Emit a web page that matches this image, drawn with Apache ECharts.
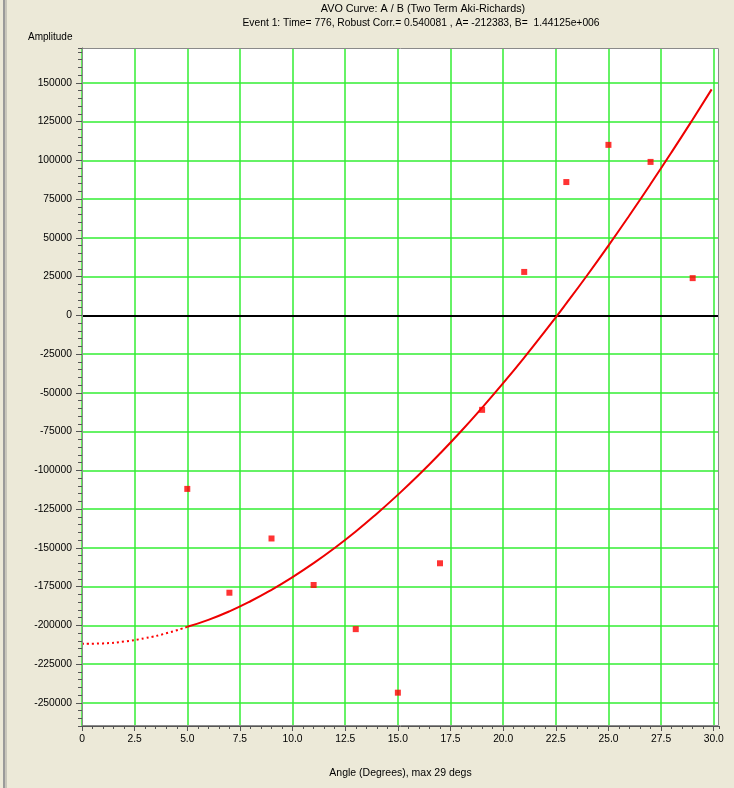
<!DOCTYPE html>
<html><head><meta charset="utf-8">
<script src="https://cdn.jsdelivr.net/npm/echarts@6/dist/echarts.min.js"></script>
<style>html,body{margin:0;padding:0;background:#ece9d8;} #c{width:734px;height:788px;}</style>
</head><body><div id="c"></div>
<script>
const titleText = 'AVO Curve: A / B (Two Term Aki-Richards)';
const subtitleText = 'Event 1: Time= 776, Robust Corr.= 0.540081 , A= -212383, B=  1.44125e+006';
const yAxisName = 'Amplitude';
const xAxisName = 'Angle (Degrees), max 29 degs';

// measured samples (red squares)
const sampleAngles = [5, 7, 9, 11, 13, 15, 17, 19, 21, 23, 25, 27, 29];
const sampleAmplitudes = [-112000, -179000, -144000, -174000, -202500, -243500, -160000, -61000, 28000, 86000, 110000, 99000, 24000];

// fitted curve, extrapolated part (dotted)
const extrapAngles = [0, 1, 2, 3, 4, 5];
const extrapAmplitudes = [-212000, -211700, -210500, -208300, -205200, -201000];

// fitted curve, solid part
const fitAngles = [5, 6, 7, 8, 9, 10, 11, 12, 13, 14, 15, 16, 17, 18, 19, 20, 21, 22, 23, 24, 25, 26, 27, 28, 29, 29.9];
const fitAmplitudes = [-201000, -196500, -191000, -184500, -177100, -168900, -159900, -150100, -139500, -128000, -115800, -102900, -89200, -74800, -59600, -43800, -27300, -10100, 7700, 26000, 45000, 64600, 84700, 105300, 126400, 145800];

const xMin = 0, xMax = 30.25, xStep = 2.5, xMinorStep = 0.5;
const yMin = -265000, yMax = 172500, yStep = 25000, yMinorStep = 5000;

const zip = (a, b) => a.map((v, i) => [v, b[i]]);
const FONT = 'Liberation Sans';
const GRID_L = 82, GRID_T = 48, GRID_R = 719, GRID_B = 726;

const chart = echarts.init(document.getElementById('c'), null, {renderer: 'canvas'});
chart.setOption({
  backgroundColor: '#ece9d8',
  animation: false,
  textStyle: {fontFamily: FONT},
  title: [
    {text: titleText, left: 418, top: -1, textAlign: 'center',
     textStyle: {fontFamily: FONT, fontSize: 10.8, fontWeight: 'normal', color: '#000'}},
    {text: subtitleText, left: 416, top: 13, textAlign: 'center',
     textStyle: {fontFamily: FONT, fontSize: 10.3, fontWeight: 'normal', color: '#000'}},
    {text: yAxisName, left: 23, top: 27,
     textStyle: {fontFamily: FONT, fontSize: 10, fontWeight: 'normal', color: '#000'}}
  ],
  grid: {left: GRID_L, top: GRID_T, right: 734 - GRID_R, bottom: 788 - GRID_B,
         show: true, backgroundColor: '#ffffff', borderWidth: 0, containLabel: false},
  xAxis: [
    {type: 'value', min: xMin, max: xMax, interval: xStep, position: 'bottom',
     axisLine: {show: true, onZero: false, lineStyle: {color: '#555', width: 1}},
     axisTick: {show: true, length: 5, lineStyle: {color: '#555'}},
     axisLabel: {margin: 8, color: '#000', fontSize: 10.3, fontFamily: FONT, showMaxLabel: false,
       formatter: v => { const k = v / xStep; if (Math.abs(k - Math.round(k)) > 1e-6) return ''; return v === 0 ? '0' : v.toFixed(1); }},
     splitLine: {show: true, showMaxLine: false, lineStyle: {color: '#33ee33', width: 1.5}},
     name: xAxisName, nameLocation: 'middle', nameGap: 42,
     nameTextStyle: {color: '#000', fontSize: 10.5, fontFamily: FONT}},
    {type: 'value', min: xMin, max: xMax, interval: xMinorStep, position: 'bottom',
     axisLine: {show: false, onZero: false}, axisTick: {show: true, length: 3, lineStyle: {color: '#555'}},
     axisLabel: {show: false}, splitLine: {show: false}}
  ],
  yAxis: [
    {type: 'value', min: yMin, max: yMax, minInterval: yStep, maxInterval: yStep, position: 'left',
     axisLine: {show: true, onZero: false, lineStyle: {color: '#555', width: 1}},
     axisTick: {show: true, length: 6, lineStyle: {color: '#555'}},
     axisLabel: {margin: 10, color: '#000', fontSize: 10.3, fontFamily: FONT, showMinLabel: false, showMaxLabel: false,
       formatter: v => (Math.abs(v % yStep) < 1e-6 ? String(v) : '')},
     splitLine: {show: true, showMinLine: false, showMaxLine: false, lineStyle: {color: '#33ee33', width: 1.5}}},
    {type: 'value', min: yMin, max: yMax, interval: yMinorStep, position: 'left', offset: 0,
     axisLine: {show: false, onZero: false}, axisTick: {show: true, length: 4, lineStyle: {color: '#555'}},
     axisLabel: {show: false}, splitLine: {show: false}}
  ],
  series: [
    {type: 'line', data: zip(extrapAngles, extrapAmplitudes), smooth: true, showSymbol: false, z: 3,
     lineStyle: {color: '#ff0000', width: 2, type: [2, 3]}},
    {type: 'line', data: zip(fitAngles, fitAmplitudes), smooth: true, showSymbol: false, z: 3,
     lineStyle: {color: '#ee0000', width: 2}},
    {type: 'scatter', data: zip(sampleAngles, sampleAmplitudes), symbol: 'rect', symbolSize: 6, z: 4,
     itemStyle: {color: '#ff0000'},
     markLine: {silent: true, symbol: 'none', label: {show: false}, z: 2,
       lineStyle: {color: '#000', width: 2, type: 'solid'}, data: [{yAxis: 0}]}}
  ],
  graphic: [
    {type: 'rect', z: 100, shape: {x: GRID_L + 0.5, y: GRID_T + 0.5, width: GRID_R - GRID_L - 1, height: GRID_B - GRID_T - 1},
     style: {fill: null, stroke: '#8a8a8a', lineWidth: 1}},
    {type: 'rect', z: 100, shape: {x: 3, y: 0, width: 2, height: 788}, style: {fill: '#9a9a9a'}},
    {type: 'rect', z: 100, shape: {x: 5, y: 0, width: 2, height: 788}, style: {fill: '#c8c6bb'}}
  ]
});
</script></body></html>
